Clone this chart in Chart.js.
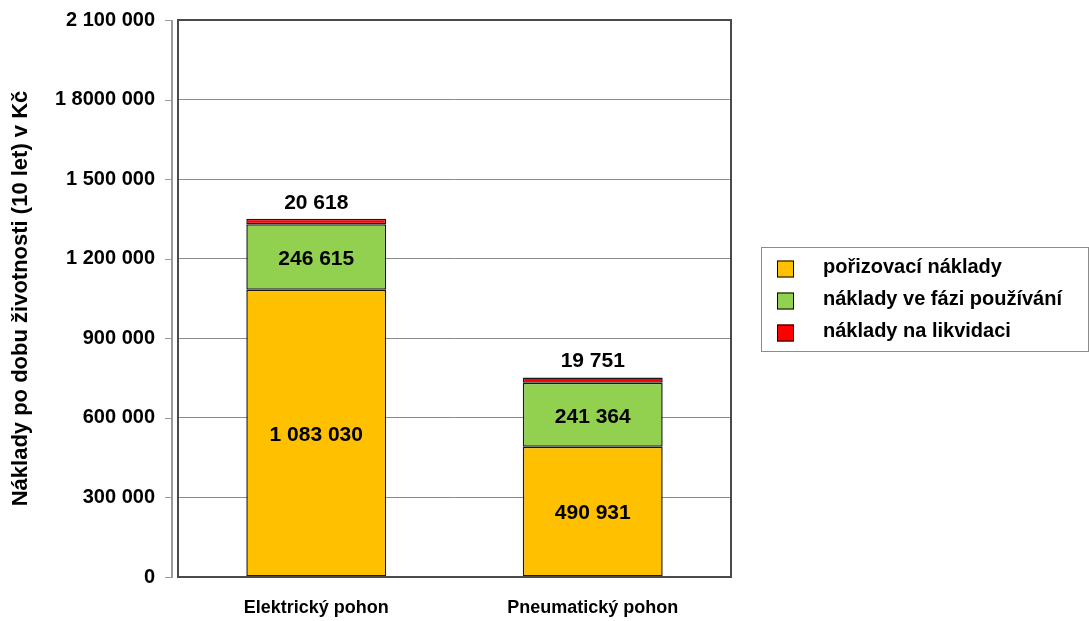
<!DOCTYPE html>
<html>
<head>
<meta charset="utf-8">
<script src="https://cdn.jsdelivr.net/npm/chart.js@4"></script>
<style>
  html, body { margin: 0; padding: 0; background: #ffffff; }
  #wrap { width: 1089px; height: 621px; }
</style>
</head>
<body>
<div id="wrap"><canvas id="c" width="1089" height="621"></canvas></div>
<script>
const categories = ['Elektrický pohon', 'Pneumatický pohon'];
const seriesNames = ['pořizovací náklady', 'náklady ve fázi používání', 'náklady na likvidaci'];
const purchaseCosts = [1083030, 490931];
const operatingCosts = [246615, 241364];
const disposalCosts = [20618, 19751];
const seriesColors = ['#FFC000', '#92D050', '#FF0000'];
const yTickLabels = ['0', '300 000', '600 000', '900 000', '1 200 000', '1 500 000', '1 8000 000', '2 100 000'];
const yAxisTitle = 'Náklady po dobu životnosti (10 let) v Kč';

const FONT = "'Liberation Sans', Arial, Helvetica, sans-serif";

function fmt(v) {
  return String(v).replace(/\B(?=(\d{3})+(?!\d))/g, ' ');
}

const frameAndAxisPlugin = {
  id: 'frameAndAxis',
  afterDatasetsDraw(chart) {
    const ctx = chart.ctx;
    const a = chart.chartArea;
    const y = chart.scales.y;
    ctx.save();
    ctx.strokeStyle = '#4a4a4a';
    ctx.lineWidth = 2;
    ctx.strokeRect(a.left, a.top, a.right - a.left, a.bottom - a.top);
    const ax = a.left - 6;
    ctx.strokeStyle = '#9a9a9a';
    ctx.lineWidth = 2;
    ctx.beginPath();
    ctx.moveTo(ax, a.top);
    ctx.lineTo(ax, a.bottom + 1);
    ctx.stroke();
    ctx.lineWidth = 1;
    y.ticks.forEach((t) => {
      const py = Math.round(y.getPixelForValue(t.value)) + 0.5;
      ctx.beginPath();
      ctx.moveTo(ax - 7, py);
      ctx.lineTo(ax, py);
      ctx.stroke();
    });
    ctx.restore();
  }
};

const valueLabelPlugin = {
  id: 'valueLabels',
  afterDatasetsDraw(chart) {
    const ctx = chart.ctx;
    ctx.save();
    ctx.font = 'bold 21px ' + FONT;
    ctx.fillStyle = '#000000';
    ctx.textAlign = 'center';
    ctx.textBaseline = 'middle';
    chart.data.datasets.forEach((ds, di) => {
      const meta = chart.getDatasetMeta(di);
      meta.data.forEach((el, i) => {
        const txt = fmt(ds.data[i]);
        if (di === chart.data.datasets.length - 1) {
          ctx.fillText(txt, el.x, el.y - 16);
        } else {
          ctx.fillText(txt, el.x, (el.y + el.base) / 2 + 2);
        }
      });
    });
    ctx.restore();
  }
};

const boxLegendPlugin = {
  id: 'boxLegend',
  afterDraw(chart) {
    const ctx = chart.ctx;
    const a = chart.chartArea;
    const left = a.right + 30;
    const width = 327;
    const height = 104;
    const top = Math.round((a.top + a.bottom) / 2 - height / 2) + 0.5;
    ctx.save();
    ctx.fillStyle = '#ffffff';
    ctx.fillRect(left, top, width, height);
    ctx.strokeStyle = '#8c8c8c';
    ctx.lineWidth = 1;
    ctx.strokeRect(left + 0.5, top, width, height);
    ctx.font = 'bold 20px ' + FONT;
    ctx.textAlign = 'left';
    ctx.textBaseline = 'middle';
    chart.data.datasets.forEach((ds, i) => {
      const cy = top + 21 + i * 32;
      ctx.fillStyle = ds.backgroundColor;
      ctx.fillRect(left + 16, cy - 8, 17, 17);
      ctx.strokeStyle = '#000000';
      ctx.strokeRect(left + 16.5, cy - 7.5, 16, 16);
      ctx.fillStyle = '#000000';
      ctx.fillText(ds.label, left + 62, cy - 1);
    });
    ctx.restore();
  }
};

const seriesValues = [purchaseCosts, operatingCosts, disposalCosts];

new Chart(document.getElementById('c'), {
  type: 'bar',
  data: {
    labels: categories,
    datasets: seriesNames.map((name, i) => ({
      label: name,
      data: seriesValues[i],
      backgroundColor: seriesColors[i],
      borderColor: '#1a1a1a',
      borderWidth: 1.5,
      borderSkipped: false,
      barPercentage: 0.506,
      categoryPercentage: 1.0
    }))
  },
  options: {
    responsive: false,
    animation: false,
    layout: { padding: { top: 20, right: 358, bottom: 0, left: 0 } },
    plugins: {
      legend: { display: false },
      tooltip: { enabled: false }
    },
    scales: {
      x: {
        stacked: true,
        grid: { display: false, drawTicks: false },
        border: { display: false },
        ticks: {
          padding: 20,
          color: '#000000',
          font: { family: FONT, size: 18, weight: 'bold' }
        },
        afterFit(scale) { scale.height = 44; scale.paddingLeft = 0; scale.paddingRight = 0; }
      },
      y: {
        stacked: true,
        min: 0,
        max: 2100000,
        grid: { color: '#8a8a8a', lineWidth: 1, drawTicks: false },
        border: { display: false },
        ticks: {
          stepSize: 300000,
          padding: 23,
          color: '#000000',
          font: { family: FONT, size: 20, weight: 'bold' },
          callback: (v, i) => yTickLabels[i]
        },
        title: {
          display: true,
          text: yAxisTitle,
          color: '#000000',
          font: { family: FONT, size: 22, weight: 'bold' },
          padding: { top: 8, bottom: 0 }
        },
        afterFit(scale) { scale.width = 178; scale.paddingTop = 0; scale.paddingBottom = 0; }
      }
    }
  },
  plugins: [frameAndAxisPlugin, valueLabelPlugin, boxLegendPlugin]
});
</script>
</body>
</html>
